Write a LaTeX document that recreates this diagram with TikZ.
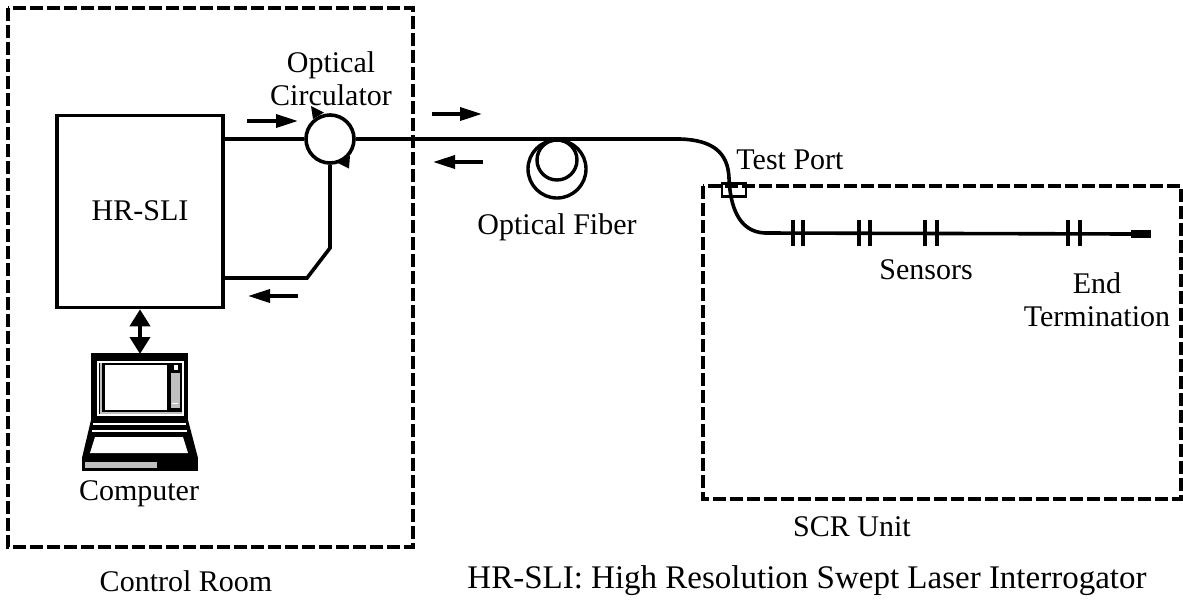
\documentclass[tikz,border=0pt]{standalone}
\usepackage{fontspec}
\setmainfont{Liberation Serif}
\usetikzlibrary{arrows.meta}
\begin{document}
\begin{tikzpicture}[x=1pt,y=-1pt,
  lbl/.style={font=\fontsize{30}{33}\selectfont, inner sep=0pt, align=center},
  framebox/.style={draw, line width=3.6pt, dash pattern=on 13pt off 4pt},
  unitbox/.style={draw, line width=3.6pt, rectangle, inner sep=0pt},
  fiber/.style={line width=3.6pt},
  flow/.style={line width=3.6pt, -{Triangle[length=22pt,width=13pt]}},
  link/.style={line width=3.8pt, {Triangle[length=17pt,width=20pt]}-{Triangle[length=17pt,width=20pt]}},
  sensortick/.style={line width=3.6pt},
  laptopgrey/.style={fill=black!25}
]
\useasboundingbox (0,0) rectangle (1183,606);

% enclosures
\draw[framebox] (8,8) rectangle (413,547);
\draw[framebox] (703,186) rectangle (1181,499);

% interrogator and circulator
\node[unitbox, minimum width=166pt, minimum height=192pt] (sli) at (140,211.5) {};
\node[lbl] (slitext) at (140,211) {HR-SLI};
\node[circle, draw, line width=3.6pt, minimum size=48pt, inner sep=0pt] (circ) at (330,139) {};
\node[lbl] (circtext) at (331,79) {Optical\\Circulator};

% circulation direction marks on the circulator
\fill (324,112.5) -- (311,106) -- (313,119) -- cycle;
\fill (338,163) -- (350,155.5) -- (349,168.5) -- cycle;

% fibres between interrogator and circulator
\coordinate (lowbend) at (330,248);
\coordinate (lowcorner) at (307,278);
\draw[fiber] (sli.east |- circ.west) -- (circ.west);
\draw[fiber] (circ.south) -- (lowbend) -- (lowcorner) -- (lowcorner -| sli.east);

% direction arrows at the interrogator
\coordinate (a1s) at (247,121); \coordinate (a1e) at (298,121);
\coordinate (a2s) at (298,296); \coordinate (a2e) at (248,296);
\draw[flow] (a1s) -- (a1e);
\draw[flow] (a2s) -- (a2e);

% test port and sensor string
\node[unitbox, line width=2.8pt, minimum width=24pt, minimum height=13pt] (tp) at (734,190) {};
\node[lbl] (tptext) at (790,160) {Test Port};
\node[fill, inner sep=0pt, minimum width=20pt, minimum height=8pt] (endt) at (1141,234) {};

% main fibre run
\coordinate (bendstart) at (680,139);
\draw[fiber] (circ.east) -- (bendstart)
  .. controls (712,140) and (728,152) .. (729,178)
  .. controls (730,205) and (738,232) .. (765,233)
  -- (endt.west);

% fibre spool
\node[circle, draw, line width=3.4pt, minimum size=58pt, inner sep=0pt] (spoolout) at (557,169) {};
\node[circle, draw, line width=3.4pt, minimum size=40pt, inner sep=0pt] (spoolin) at (557,160) {};
\node[lbl] (fibtext) at (557,227) {Optical Fiber};

% direction arrows on the fibre
\coordinate (a3s) at (432,114); \coordinate (a3e) at (482,114);
\coordinate (a4s) at (483,162); \coordinate (a4e) at (433,162);
\draw[flow] (a3s) -- (a3e);
\draw[flow] (a4s) -- (a4e);

% sensors
\foreach \x in {793,803,859,870,925,937,1068,1080}
  \draw[sensortick] (\x,220) -- (\x,246);
\node[lbl] (senstext) at (926,270) {Sensors};
\node[lbl] (endtext) at (1097,300) {End\\Termination};

% labels below
\node[lbl] (scrtext) at (852,527) {SCR Unit};
\node[lbl] (roomtext) at (186,581) {Control Room};
\node[lbl, font=\fontsize{33}{36}\selectfont] (legend) at (807,581) {HR-SLI: High Resolution Swept Laser Interrogator};

% computer
\coordinate (pc) at (140,354);
\draw[link] (sli.south -| pc) -- (pc);
% lid
\fill (91,353) rectangle (188,421);
\draw[white, line width=1.2pt] (98,362) rectangle (183,415);
\fill (99,363) rectangle (182,414);
\fill[white] (105,365) rectangle (167,410);
\draw[black!25, line width=1.2pt] (101,363) -- (101,413) -- (182,413);
\fill[laptopgrey] (171,373) rectangle (180,408);
\fill[white] (174,365) rectangle (178,370);
\draw[white, line width=0.6pt] (172,403) -- (178,403);
% base
\fill (91,420) -- (188,420) -- (198,458) -- (82,458) -- cycle;
\draw[white, line width=1.4pt] (93,424) -- (186,424);
\draw[white, line width=1.4pt] (92,431) -- (187,431);
\fill[white] (95,437) -- (183,437) -- (188,453) -- (90,453) -- cycle;
\fill (82,458) rectangle (198,471);
\fill[laptopgrey] (85,462) rectangle (157,468);
\node[lbl] (pctext) at (139,494) {Computer};
\end{tikzpicture}
\end{document}
